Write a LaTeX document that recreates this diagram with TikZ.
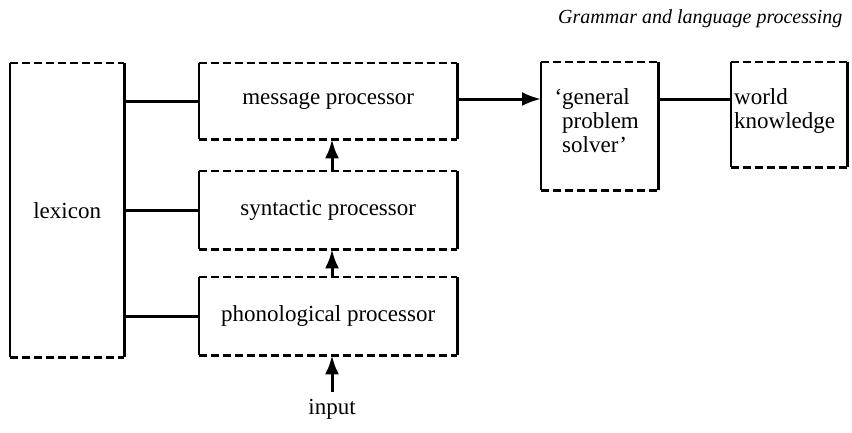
\documentclass[tikz,border=0pt]{standalone}
\usepackage{fontspec}
\setmainfont{Liberation Serif}
\usetikzlibrary{arrows.meta}
\begin{document}
\begin{tikzpicture}[x=1pt,y=-1pt,
  font=\fontsize{23}{24}\selectfont,
  unit/.style={anchor=north west,inner sep=0pt,minimum width=#1},
  edge/.style={line width=2.4pt,dash pattern=on 8pt off 4pt},
  side/.style={line width=2.4pt},
  link/.style={line width=3pt},
  flow/.style={line width=3pt,-{Latex[length=19pt,width=14pt]}}]
\useasboundingbox (0,0) rectangle (852,432);

% heading
\node[anchor=base east,font=\fontsize{20}{22}\selectfont\itshape] (title) at (846,23) {Grammar and language processing};

% boxes
\node[unit=114pt,minimum height=294pt] (lex) at (10,63) {lexicon};
\node[unit=258pt,minimum height=76pt] (msg) at (199,63) {message processor};
\node[unit=258pt,minimum height=78pt] (syn) at (199,171) {syntactic processor};
\node[unit=258pt,minimum height=78pt] (pho) at (199,277) {phonological processor};
\node[unit=117pt,minimum height=128pt] (gps) at (541,62) {};
\node[unit=116pt,minimum height=105pt] (wk) at (731,62) {};

% box texts set flush left
\node[anchor=north west,inner sep=0pt,align=left,font=\fontsize{23}{24}\selectfont] (gpstext) at (562,88)
  {\llap{`}general\\problem\\solver'};
\node[anchor=north west,inner sep=0pt,align=left,font=\fontsize{23}{24}\selectfont] (wktext) at (734,88)
  {world\\knowledge};

% outlines: dashed top and bottom, solid sides
\foreach \b in {lex,msg,syn,pho,gps,wk}{
  \draw[edge] (\b.north west) -- (\b.north east);
  \draw[edge] (\b.south west) -- (\b.south east);
  \draw[side] (\b.north west) -- (\b.south west);
  \draw[side] (\b.north east) -- (\b.south east);
}

% lexicon links
\draw[link] (lex.east |- msg.west) -- (msg.west);
\draw[link] (lex.east |- syn.west) -- (syn.west);
\draw[link] (lex.east |- pho.west) -- (pho.west);

% processing flow
\coordinate (col) at (332,0);
\node[inner sep=0pt] (input) at (332,409) {input};
\draw[flow] (input.north |- 0,392) -- (col |- pho.south);
\draw[flow] (col |- pho.north) -- (col |- syn.south);
\draw[flow] (col |- syn.north) -- (col |- msg.south);
\draw[flow] (msg.east |- 0,99) -- (gps.west |- 0,99);
\draw[link] (gps.east |- 0,99) -- (wk.west |- 0,99);
\end{tikzpicture}
\end{document}
